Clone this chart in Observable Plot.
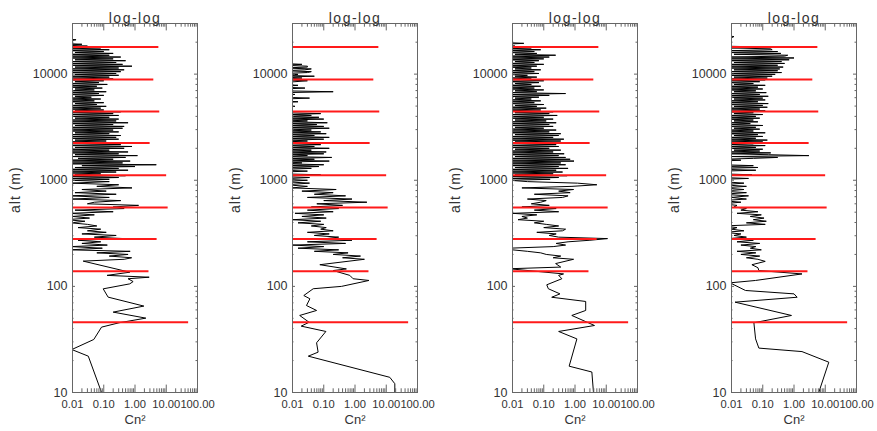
<!DOCTYPE html>
<html><head><meta charset="utf-8">
<script src="https://cdn.jsdelivr.net/npm/d3@7"></script>
<script src="https://cdn.jsdelivr.net/npm/@observablehq/plot@0.6"></script>
<style>
body{margin:0;background:#fff;}
#chart{position:relative;width:877px;height:431px;overflow:hidden;}
#chart svg{position:absolute;top:0;}
</style></head><body><div id="chart"></div>
<script>
const titles = ["log-log", "log-log", "log-log", "log-log"];
const xLabel = "Cn²";
const yLabel = "alt (m)";
const xDomain = [0.01, 100];
const yDomain = [10, 30000];
const xTicks = [0.01, 0.1, 1, 10, 100];
const xTickLabels = ["0.01", "0.10", "1.00", "10.00", "100.00"];
const yTicks = [10, 100, 1000, 10000];
const yTickLabels = ["10", "100", "1000", "10000"];
const xMinor = [0.02,0.03,0.04,0.05,0.06,0.07,0.08,0.09,0.2,0.3,0.4,0.5,0.6,0.7,0.8,0.9,2,3,4,5,6,7,8,9,20,30,40,50,60,70,80,90];
const yMinor = [20,30,40,50,60,70,80,90,200,300,400,500,600,700,800,900,2000,3000,4000,5000,6000,7000,8000,9000,20000];

// red layer markers (same in every panel)
const redAlt = [46, 139, 279, 554, 1117, 2239, 4450, 8913, 17977];
const redCn = [52, 2.8, 5.1, 11.5, 10.3, 3.05, 6.2, 4.0, 5.8];

// altitude sampling: 180-1000 m and 1000-20000 m
const altLo = [180,186,193,200,207,214,221,229,237,245,
 254,263,272,282,291,302,312,323,334,346,
 358,371,384,397,411,425,440,456,472,488,
 505,523,541,560,580,600,621,643,665,689,
 713,738,764,790,818,847,876,907,939,971];
const altHi = [1000,1020,1040,1061,1082,1104,1126,1149,1172,1195,
 1219,1243,1268,1294,1319,1346,1373,1400,1428,1457,
 1486,1516,1546,1577,1608,1641,1673,1707,1741,1776,
 1811,1848,1885,1922,1961,2000,2040,2081,2122,2165,
 2208,2252,2297,2343,2390,2438,2487,2536,2587,2639,
 2692,2745,2800,2856,2913,2972,3031,3092,3154,3217,
 3281,3347,3414,3482,3552,3623,3695,3769,3845,3921,
 4000,4080,4161,4245,4330,4416,4505,4595,4687,4780,
 4876,4973,5073,5174,5278,5383,5491,5601,5713,5827,
 5943,6062,6183,6307,6433,6562,6693,6827,6963,7103,
 7245,7390,7537,7688,7842,7999,8159,8322,8488,8658,
 8831,9008,9188,9372,9559,9750,9945,10144,10347,10554,
 10765,10980,11200,11424,11652,11885,12123,12366,12613,12865,
 13123,13385,13653,13926,14204,14488,14778,15074,15375,15683,
 15996,16316,16643,16975,17315,17661,18015,18375,18742,19117,
 19500,19890];

// panel 1
const p1BaseAlt = [10, 22, 25.4, 31.6, 41.3, 45.4, 50.2, 57.2, 65.2, 79.2, 94.8, 105.6, 111, 118, 122, 127, 136, 173];
const p1BaseCn = [0.085, 0.032, 0.0095, 0.048, 0.085, 0.31, 2.22, 0.2, 1.92, 0.138, 0.096, 0.68, 0.87, 0.6, 2.84, 0.128, 0.68, 0.022];
const p1LoCn = [0.45,0.78,0.15,0.6,0.06,0.7,0.008,0.09,0.009,0.13,
 0.02,0.08,0.015,0.45,0.05,0.25,0.02,0.12,0.03,0.08,
 0.015,0.06,0.03,0.009,0.025,0.006,0.035,0.01,0.05,0.008,
 0.2,0.012,0.45,0.2,1.3,0.03,0.05,0.35,0.01,0.15,
 0.008,0.25,0.012,0.12,0.02,0.8,0.06,0.3,0.009,0.15];
const p1HiCn = [0.008,0.15,0.01,0.3,0.006,0.5,0.012,0.08,0.008,0.25,
 0.01,0.6,0.006,0.3,0.012,1.0,0.02,4.8,0.008,0.4,
 0.01,0.7,0.006,0.2,0.015,0.5,0.008,1.2,0.012,0.3,
 0.006,0.6,0.01,0.15,0.008,0.45,0.012,0.8,0.006,0.35,
 0.01,0.2,0.008,0.12,0.012,0.3,0.006,0.25,0.01,0.35,
 0.008,0.15,0.012,0.3,0.006,0.2,0.01,0.4,0.008,0.45,
 0.012,0.2,0.006,0.6,0.01,0.25,0.008,0.3,0.012,0.15,
 0.006,0.3,0.01,0.2,0.008,0.35,0.012,0.1,0.006,0.08,
 0.01,0.12,0.008,0.06,0.012,0.1,0.006,0.05,0.01,0.08,
 0.008,0.04,0.012,0.1,0.006,0.07,0.01,0.12,0.008,0.05,
 0.012,0.09,0.006,0.06,0.01,0.13,0.008,0.07,0.012,0.1,
 0.006,0.2,0.01,0.15,0.008,0.3,0.012,0.25,0.006,0.35,
 0.01,0.45,0.008,0.3,0.012,0.8,0.006,0.4,0.01,0.25,
 0.008,0.5,0.012,0.2,0.006,0.35,0.01,0.15,0.008,0.2,
 0.012,0.1,0.006,0.15,0.01,0.08,0.006,0.03,0.005,0.02,
 0.005,0.005];
const p1TopAlt = [21100, 21600];
const p1TopCn = [0.013, 0.005];

// panel 2
const p2BaseAlt = [10, 12.1, 13.9, 22, 24, 29.4, 37.6, 42.2, 45.9, 53.2, 59.3, 66, 76.4, 82, 95, 100, 113.7, 118, 127, 141, 146, 160];
const p2BaseCn = [18.8, 18.8, 13, 0.032, 0.066, 0.059, 0.117, 0.019, 0.034, 0.017, 0.059, 0.028, 0.036, 0.023, 0.046, 0.37, 2.8, 0.87, 0.68, 0.2, 0.53, 0.075];
const p2LoCn = [2.0,0.4,1.5,0.2,0.6,0.05,0.3,0.015,0.1,0.01,
 0.5,0.03,0.8,0.12,0.3,0.05,0.15,0.03,0.2,0.08,
 0.12,0.04,0.1,0.015,0.08,0.01,0.12,0.02,0.1,0.012,
 0.2,0.03,0.3,0.04,0.4,0.06,2.4,0.1,0.8,0.03,
 0.5,0.05,0.2,0.02,0.25,0.01,0.03,0.006,0.035,0.005];
const p2HiCn = [0.03,0.005,0.008,0.035,0.005,0.006,0.08,0.005,0.01,0.005,
 0.03,0.005,0.006,0.04,0.005,0.07,0.008,0.1,0.006,0.02,
 0.008,0.15,0.006,0.05,0.01,0.18,0.006,0.03,0.01,0.1,
 0.006,0.12,0.01,0.04,0.006,0.15,0.01,0.05,0.006,0.08,
 0.01,0.12,0.006,0.03,0.01,0.1,0.006,0.15,0.01,0.05,
 0.006,0.12,0.01,0.08,0.006,0.04,0.01,0.15,0.006,0.1,
 0.01,0.06,0.006,0.13,0.01,0.03,0.006,0.1,0.01,0.07,
 0.006,0.04,0.01,0.08,0.005,0.005,0.005,0.005,0.005,0.005,
 0.005,0.012,0.005,0.005,0.005,0.005,0.015,0.005,0.005,0.005,
 0.035,0.005,0.005,0.005,0.012,0.005,0.005,0.2,0.005,0.005,
 0.005,0.025,0.005,0.005,0.015,0.005,0.005,0.005,0.012,0.03,
 0.005,0.005,0.02,0.005,0.05,0.005,0.015,0.005,0.03,0.04,
 0.005,0.025,0.04,0.005,0.03,0.03,0.005,0.02,0.005];
const p2TopAlt = [];
const p2TopCn = [];

// panel 3
const p3BaseAlt = [10, 15.6, 17.7, 32, 37.6, 42.8, 53.2, 59.3, 72.1, 79, 85, 95, 103.5, 118, 127, 131, 146.6, 152, 164];
const p3BaseCn = [3.9, 3.46, 0.65, 1.15, 0.3, 4.2, 0.79, 2.2, 2.2, 0.18, 0.33, 0.14, 0.125, 0.38, 0.3, 0.43, 0.008, 0.35, 0.24];
const p3LoCn = [0.9,0.2,0.35,0.12,0.08,0.03,0.01,0.008,0.2,0.5,
 0.25,0.6,3.0,11,0.3,0.15,0.25,0.06,0.4,0.5,
 0.1,0.3,0.12,0.05,0.1,0.015,0.03,0.02,0.06,0.01,
 0.3,0.05,0.25,0.02,0.15,0.04,0.08,0.12,0.03,0.4,
 0.6,0.05,0.7,0.3,0.9,0.02,0.8,5.0,1.2,0.03];
const p3HiCn = [0.008,0.16,0.01,0.3,0.006,0.56,0.012,0.2,0.008,0.4,
 0.01,0.25,0.006,0.6,0.012,0.3,0.008,0.5,0.01,0.35,
 0.006,0.93,0.01,0.7,0.008,0.5,0.012,0.3,0.006,0.45,
 0.01,0.2,0.008,0.35,0.012,0.15,0.006,0.3,0.01,0.25,
 0.008,0.2,0.012,0.35,0.006,0.44,0.01,0.2,0.008,0.3,
 0.012,0.35,0.006,0.15,0.01,0.25,0.008,0.1,0.012,0.2,
 0.006,0.15,0.01,0.25,0.008,0.12,0.012,0.2,0.006,0.1,
 0.01,0.27,0.008,0.15,0.012,0.2,0.006,0.08,0.01,0.12,
 0.008,0.06,0.012,0.1,0.006,0.05,0.01,0.08,0.008,0.04,
 0.012,0.07,0.006,0.15,0.01,0.5,0.008,0.06,0.012,0.1,
 0.006,0.05,0.01,0.08,0.008,0.04,0.012,0.07,0.006,0.1,
 0.01,0.04,0.008,0.06,0.012,0.03,0.006,0.07,0.01,0.05,
 0.008,0.08,0.012,0.04,0.006,0.06,0.01,0.1,0.008,0.05,
 0.012,0.07,0.006,0.1,0.01,0.15,0.008,0.24,0.012,0.06,
 0.006,0.05,0.01,0.08,0.008,0.04,0.005,0.012,0.005,0.005,
 0.023,0.005];
const p3TopAlt = [];
const p3TopCn = [];

// panel 4
const p4BaseAlt = [10, 19.3, 24.3, 26.2, 32, 45.4, 53.2, 71, 79, 85, 91.5, 108, 113.7, 131, 141, 150, 160, 172];
const p4BaseCn = [6.2, 13, 1.8, 0.075, 0.059, 0.052, 0.83, 0.013, 1.26, 1.0, 0.028, 0.009, 0.059, 1.8, 0.075, 0.07, 0.045, 0.12];
const p4LoCn = [0.07,0.03,0.08,0.02,0.06,0.015,0.09,0.04,0.06,0.02,
 0.08,0.015,0.05,0.008,0.03,0.012,0.02,0.006,0.025,0.01,
 0.015,0.005,0.12,0.03,0.13,0.05,0.11,0.04,0.09,0.015,
 0.07,0.02,0.03,0.012,0.015,0.005,0.02,0.005,0.03,0.01,
 0.035,0.005,0.03,0.005,0.025,0.005,0.03,0.005,0.025,0.005];
const p4HiCn = [0.005,0.005,0.035,0.005,0.005,0.005,0.045,0.005,0.005,0.005,
 0.005,0.06,0.005,0.005,0.07,0.005,0.05,0.005,0.005,0.005,
 0.006,0.005,0.02,0.005,0.05,0.3,0.01,3.0,0.15,0.01,
 0.18,0.008,0.08,0.012,0.1,0.006,0.06,0.01,0.12,0.008,
 0.05,0.012,0.1,0.006,0.14,0.01,0.06,0.008,0.1,0.012,
 0.07,0.006,0.12,0.01,0.05,0.008,0.08,0.012,0.06,0.006,
 0.1,0.01,0.04,0.008,0.07,0.012,0.05,0.006,0.08,0.01,
 0.06,0.008,0.1,0.012,0.05,0.006,0.12,0.01,0.08,0.008,
 0.14,0.012,0.1,0.006,0.15,0.01,0.07,0.008,0.12,0.012,
 0.1,0.006,0.15,0.01,0.08,0.008,0.13,0.012,0.06,0.006,
 0.1,0.01,0.07,0.008,0.12,0.012,0.05,0.006,0.08,0.01,
 0.12,0.008,0.14,0.012,0.2,0.006,0.25,0.01,0.4,0.008,
 0.3,0.012,0.35,0.006,0.45,0.01,0.3,0.008,0.5,0.012,
 0.4,0.006,0.7,0.01,1.0,0.008,0.5,0.63,0.012,0.38,
 0.006,0.3,0.01,0.2,0.18,0.008,0.1,0.005,0.01,0.005,
 0.005,0.005];
const p4TopAlt = [22600, 23100];
const p4TopCn = [0.012, 0.005];

const panelLeft = [0, 220, 440, 659];

function buildRows(baseAlt, baseCn, loCn, hiCn, topAlt, topCn) {
  const out = [];
  baseAlt.forEach((a, i) => out.push({alt: a, cn: baseCn[i]}));
  loCn.forEach((c, i) => out.push({alt: altLo[i], cn: c}));
  hiCn.forEach((c, i) => out.push({alt: altHi[i], cn: c}));
  topAlt.forEach((a, i) => out.push({alt: a, cn: topCn[i]}));
  return out;
}
const profiles = [
  buildRows(p1BaseAlt, p1BaseCn, p1LoCn, p1HiCn, p1TopAlt, p1TopCn),
  buildRows(p2BaseAlt, p2BaseCn, p2LoCn, p2HiCn, p2TopAlt, p2TopCn),
  buildRows(p3BaseAlt, p3BaseCn, p3LoCn, p3HiCn, p3TopAlt, p3TopCn),
  buildRows(p4BaseAlt, p4BaseCn, p4LoCn, p4HiCn, p4TopAlt, p4TopCn)
];
const redRows = redAlt.map((a, i) => ({alt: a, cn: redCn[i]}));

const FW = 125, FH = 369;
const axisColor = "#666";
const font = "'Liberation Sans', Arial, Helvetica, sans-serif";

function panel(rows, title) {
  const svg = Plot.plot({
    width: 220, height: 431,
    marginLeft: 72, marginRight: 23, marginTop: 23, marginBottom: 39,
    x: {type: "log", domain: xDomain},
    y: {type: "log", domain: yDomain},
    style: {fontFamily: font, fontSize: "12.5px", color: "#333", background: "white", overflow: "visible"},
    marks: [
      Plot.line(rows, {x: "cn", y: "alt", stroke: "black", strokeWidth: 1, clip: true}),
      Plot.ruleY(redRows, {y: "alt", x1: () => xDomain[0], x2: "cn", stroke: "#ff1a1a", strokeWidth: 2}),
      Plot.frame({stroke: axisColor}),
      Plot.ruleX(xTicks, {insetTop: FH - 7.4, stroke: axisColor}),
      Plot.ruleX(xTicks, {insetBottom: FH - 7.4, stroke: axisColor}),
      Plot.ruleX(xMinor, {insetTop: FH - 3.7, stroke: axisColor}),
      Plot.ruleX(xMinor, {insetBottom: FH - 3.7, stroke: axisColor}),
      Plot.ruleY(yTicks, {insetRight: FW - 3, stroke: axisColor}),
      Plot.ruleY(yTicks, {insetLeft: FW - 3, stroke: axisColor}),
      Plot.ruleY(yMinor, {insetRight: FW - 1.5, stroke: axisColor}),
      Plot.ruleY(yMinor, {insetLeft: FW - 1.5, stroke: axisColor}),
      Plot.axisX(xTicks, {anchor: "bottom", tickSize: 0, tickPadding: 8, label: null, fontSize: 11.2,
        tickFormat: d => xTickLabels[xTicks.indexOf(d)]}),
      Plot.axisY(yTicks, {anchor: "left", tickSize: 0, tickPadding: 5, label: null,
        tickFormat: d => yTickLabels[yTicks.indexOf(d)]}),
      Plot.text([title], {frameAnchor: "top", dy: -10.5, fontSize: 14, fill: "#333"}),
      Plot.text([yLabel], {frameAnchor: "left", dx: -57, dy: 5, rotate: -90, fontSize: 14, fill: "#333"}),
      Plot.text([xLabel], {frameAnchor: "bottom", dy: 31.5, fontSize: 13, fill: "#333"})
    ]
  });
  d3.select(svg).selectAll("text")
    .filter(function() { return this.textContent === title; })
    .attr("letter-spacing", "1.5px");
  d3.select(svg).selectAll("text")
    .filter(function() { return this.textContent === yLabel; })
    .attr("letter-spacing", "1px");
  return svg;
}

const chart = document.getElementById("chart");
profiles.forEach((rows, i) => {
  const svg = panel(rows, titles[i]);
  svg.style.left = panelLeft[i] + "px";
  chart.appendChild(svg);
});
</script>
</body></html>
